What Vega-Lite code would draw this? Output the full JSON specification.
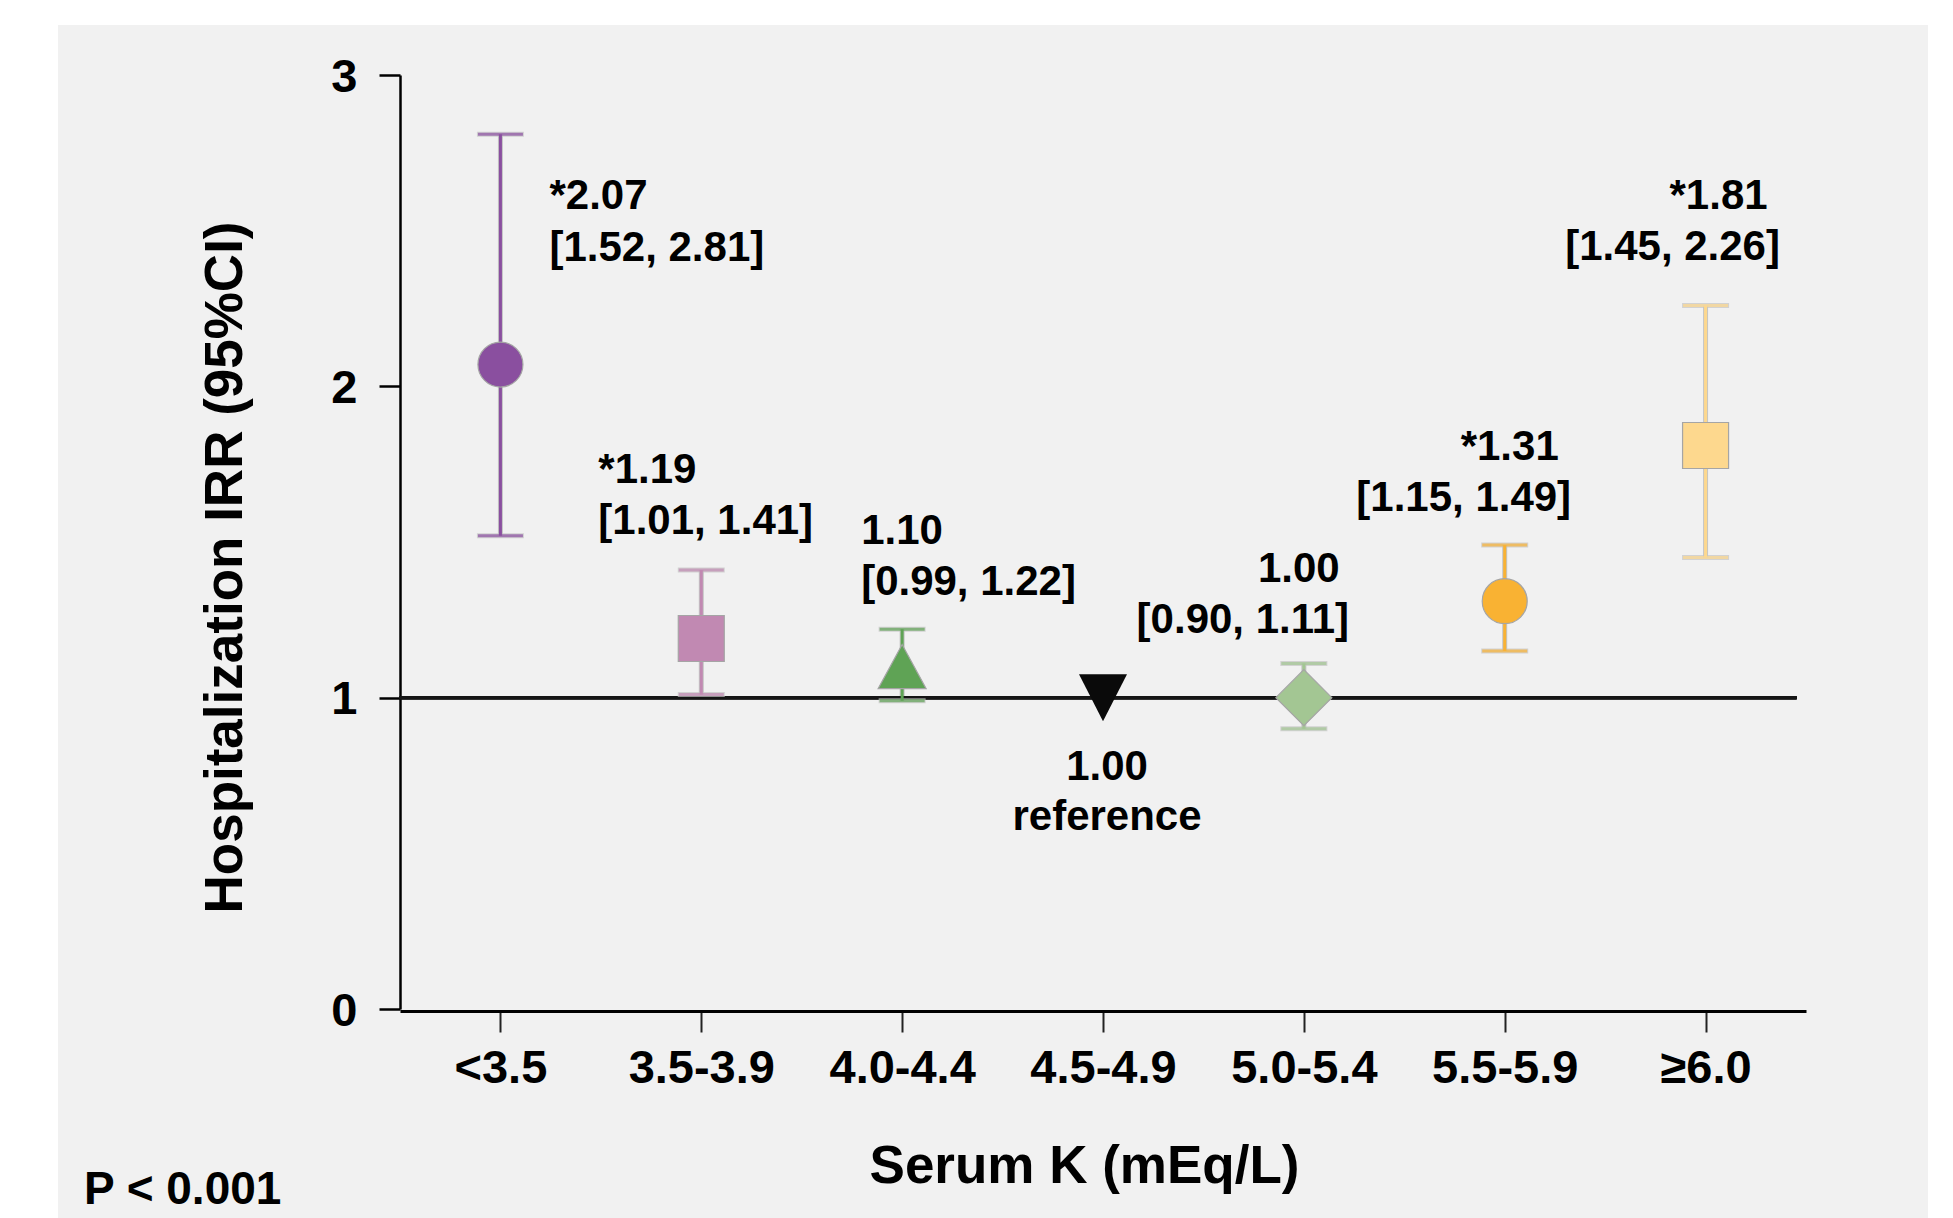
{
"$schema":"https://vega.github.io/schema/vega-lite/v6.json",
"width":1870,"height":1193,
"autosize":{"type":"none"},
"padding":{"left":58,"top":25,"right":25,"bottom":0},
"background":"#ffffff",
"title":{"text":"P < 0.001","orient":"bottom","anchor":"start","frame":"group","offset":0,"dx":26,"dy":-14,"baseline":"alphabetic","font":"Liberation Sans","fontSize":46,"fontWeight":"bold","color":"#000000"},
"config":{"view":{"fill":"#f1f1f1","stroke":null},"font":"Liberation Sans",
 "text":{"font":"Liberation Sans","fontSize":42,"fontWeight":"bold","color":"#000000","baseline":"alphabetic"},
 "axisY":{"offset":-342,"domainColor":"#000000","domainWidth":2.5,"tickColor":"#000000","tickWidth":2.5,"tickSize":21,
    "labelFont":"Liberation Sans","labelFontSize":47,"labelFontWeight":"bold","labelColor":"#000000","labelPadding":22,"labelOffset":2,
    "titleFont":"Liberation Sans","titleFontSize":53,"titleFontWeight":"bold","titleColor":"#000000",
    "titleX":-159,"titleY":542,"titleAngle":270,"titleAlign":"center","titleBaseline":"alphabetic",
    "grid":false}},
"data":{"values":[
{"k":"<3.5","irr":2.07,"lo":1.52,"hi":2.81,"line1":"*2.07","line2":"[1.52, 2.81]"},
{"k":"3.5-3.9","irr":1.19,"lo":1.01,"hi":1.41,"line1":"*1.19","line2":"[1.01, 1.41]"},
{"k":"4.0-4.4","irr":1.10,"lo":0.99,"hi":1.22,"line1":"1.10","line2":"[0.99, 1.22]"},
{"k":"4.5-4.9","irr":1.00,"lo":null,"hi":null,"line1":"1.00","line2":"reference"},
{"k":"5.0-5.4","irr":1.00,"lo":0.90,"hi":1.11,"line1":"1.00","line2":"[0.90, 1.11]"},
{"k":"5.5-5.9","irr":1.31,"lo":1.15,"hi":1.49,"line1":"*1.31","line2":"[1.15, 1.49]"},
{"k":"≥6.0","irr":1.81,"lo":1.45,"hi":2.26,"line1":"*1.81","line2":"[1.45, 2.26]"}
]},
"encoding":{"x":{"field":"k","type":"nominal","sort":null,
 "scale":{"type":"point","domain":["<3.5","3.5-3.9","4.0-4.4","4.5-4.9","5.0-5.4","5.5-5.9","≥6.0"],"range":[342,1748],"padding":0.5},
 "axis":{"title":"Serum K (mEq/L)","offset":-207,"domainColor":"#000000","domainWidth":3,"tickColor":"#222222","tickWidth":2,"tickSize":21,
  "labelFont":"Liberation Sans","labelFontSize":47,"labelFontWeight":"bold","labelColor":"#000000","labelPadding":13,"labelAngle":0,
  "titleFont":"Liberation Sans","titleFontSize":53,"titleFontWeight":"bold","titleColor":"#000000","titleX":1026,"titleY":171,"titleAlign":"center","titleBaseline":"alphabetic","grid":false}}},
"layer":[
{"transform":[{"filter":"datum.lo != null"}],
 "mark":{"type":"rule","strokeWidth":5,"color":"#c4c4c4"},
 "encoding":{"y":{"field":"lo","type":"quantitative","scale":{"domain":[0,3],"range":[984,50],"nice":false,"zero":false},
   "axis":{"title":"Hospitalization IRR (95%CI)","values":[0,1,2,3],"format":"d"}},
  "y2":{"field":"hi"}}},
{"mark":{"type":"rule","strokeWidth":3,"color":"#151515","xOffset":-101,"x2Offset":91},
 "encoding":{"x":{"datum":"<3.5","type":"nominal"},"x2":{"datum":"≥6.0"},"y":{"datum":1,"type":"quantitative"}}},
{"transform":[{"filter":"datum.lo != null"},{"fold":["lo","hi"],"as":["end","v"]}],
 "mark":{"type":"tick","thickness":5,"size":47,"color":"#c4c4c4"},
 "encoding":{"y":{"field":"v","type":"quantitative"}}},
{"transform":[{"filter":"datum.lo != null"}],
 "mark":{"type":"rule","strokeWidth":3},
 "encoding":{"y":{"field":"lo","type":"quantitative"},"y2":{"field":"hi"},
  "color":{"field":"k","type":"nominal","scale":{"domain":["<3.5","3.5-3.9","4.0-4.4","4.5-4.9","5.0-5.4","5.5-5.9","≥6.0"],"range":["#8a4f9f","#c189b2","#5fa355","#0a0a0a","#a3c693","#f9b233","#fdd88e"]},"legend":null}}},
{"transform":[{"filter":"datum.lo != null"},{"fold":["lo","hi"],"as":["end","v"]}],
 "mark":{"type":"tick","thickness":3,"size":45},
 "encoding":{"y":{"field":"v","type":"quantitative"},
  "color":{"field":"k","type":"nominal","legend":null}}},
{"transform":[{"filter":{"field":"k","oneOf":["<3.5","5.5-5.9"]}}],
 "mark":{"type":"point","filled":true,"shape":"circle","size":2025,"stroke":"#a5a5a5","strokeWidth":1.2,"opacity":1},
 "encoding":{"y":{"field":"irr","type":"quantitative"},"color":{"field":"k","type":"nominal","legend":null}}},
{"transform":[{"filter":{"field":"k","oneOf":["3.5-3.9","≥6.0"]}}],
 "mark":{"type":"point","filled":true,"shape":"square","size":2116,"stroke":"#a5a5a5","strokeWidth":1.2,"opacity":1},
 "encoding":{"y":{"field":"irr","type":"quantitative"},"color":{"field":"k","type":"nominal","legend":null}}},
{"transform":[{"filter":{"field":"k","equal":"4.0-4.4"}}],
 "mark":{"type":"point","filled":true,"shape":"M0,-0.92L1,0.92L-1,0.92Z","size":2304,"stroke":"#a5a5a5","strokeWidth":1.2,"opacity":1},
 "encoding":{"y":{"field":"irr","type":"quantitative"},"color":{"field":"k","type":"nominal","legend":null}}},
{"transform":[{"filter":{"field":"k","equal":"4.5-4.9"}}],
 "mark":{"type":"point","filled":true,"shape":"M-1,-0.98L1,-0.98L0,0.98Z","size":2304,"opacity":1},
 "encoding":{"y":{"field":"irr","type":"quantitative"},"color":{"field":"k","type":"nominal","legend":null}}},
{"transform":[{"filter":{"field":"k","equal":"5.0-5.4"}}],
 "mark":{"type":"point","filled":true,"shape":"diamond","size":3136,"stroke":"#a5a5a5","strokeWidth":1.2,"opacity":1},
 "encoding":{"y":{"field":"irr","type":"quantitative"},"color":{"field":"k","type":"nominal","legend":null}}},

{"transform":[{"filter":{"field":"k","equal":"<3.5"}}],"mark":{"type":"text","align":"left","dx":49,"dy":75},"encoding":{"y":{"field":"hi","type":"quantitative"},"text":{"field":"line1"}}},
{"transform":[{"filter":{"field":"k","equal":"<3.5"}}],"mark":{"type":"text","align":"left","dx":49,"dy":127},"encoding":{"y":{"field":"hi","type":"quantitative"},"text":{"field":"line2"}}},
{"transform":[{"filter":{"field":"k","equal":"3.5-3.9"}}],"mark":{"type":"text","align":"left","dx":-103,"dy":-87},"encoding":{"y":{"field":"hi","type":"quantitative"},"text":{"field":"line1"}}},
{"transform":[{"filter":{"field":"k","equal":"3.5-3.9"}}],"mark":{"type":"text","align":"left","dx":-103,"dy":-36},"encoding":{"y":{"field":"hi","type":"quantitative"},"text":{"field":"line2"}}},
{"transform":[{"filter":{"field":"k","equal":"4.0-4.4"}}],"mark":{"type":"text","align":"left","dx":-41,"dy":-85},"encoding":{"y":{"field":"hi","type":"quantitative"},"text":{"field":"line1"}}},
{"transform":[{"filter":{"field":"k","equal":"4.0-4.4"}}],"mark":{"type":"text","align":"left","dx":-41,"dy":-34},"encoding":{"y":{"field":"hi","type":"quantitative"},"text":{"field":"line2"}}},
{"transform":[{"filter":{"field":"k","equal":"4.5-4.9"}}],"mark":{"type":"text","align":"center","dx":4,"dy":82},"encoding":{"y":{"field":"irr","type":"quantitative"},"text":{"field":"line1"}}},
{"transform":[{"filter":{"field":"k","equal":"4.5-4.9"}}],"mark":{"type":"text","align":"center","dx":4,"dy":132},"encoding":{"y":{"field":"irr","type":"quantitative"},"text":{"field":"line2"}}},
{"transform":[{"filter":{"field":"k","equal":"5.0-5.4"}}],"mark":{"type":"text","align":"center","dx":-5,"dy":-81},"encoding":{"y":{"field":"hi","type":"quantitative"},"text":{"field":"line1"}}},
{"transform":[{"filter":{"field":"k","equal":"5.0-5.4"}}],"mark":{"type":"text","align":"center","dx":-61,"dy":-30},"encoding":{"y":{"field":"hi","type":"quantitative"},"text":{"field":"line2"}}},
{"transform":[{"filter":{"field":"k","equal":"5.5-5.9"}}],"mark":{"type":"text","align":"center","dx":5,"dy":-85},"encoding":{"y":{"field":"hi","type":"quantitative"},"text":{"field":"line1"}}},
{"transform":[{"filter":{"field":"k","equal":"5.5-5.9"}}],"mark":{"type":"text","align":"center","dx":-41,"dy":-34},"encoding":{"y":{"field":"hi","type":"quantitative"},"text":{"field":"line2"}}},
{"transform":[{"filter":{"field":"k","equal":"≥6.0"}}],"mark":{"type":"text","align":"center","dx":13,"dy":-96},"encoding":{"y":{"field":"hi","type":"quantitative"},"text":{"field":"line1"}}},
{"transform":[{"filter":{"field":"k","equal":"≥6.0"}}],"mark":{"type":"text","align":"center","dx":-33,"dy":-45},"encoding":{"y":{"field":"hi","type":"quantitative"},"text":{"field":"line2"}}}
]
}
